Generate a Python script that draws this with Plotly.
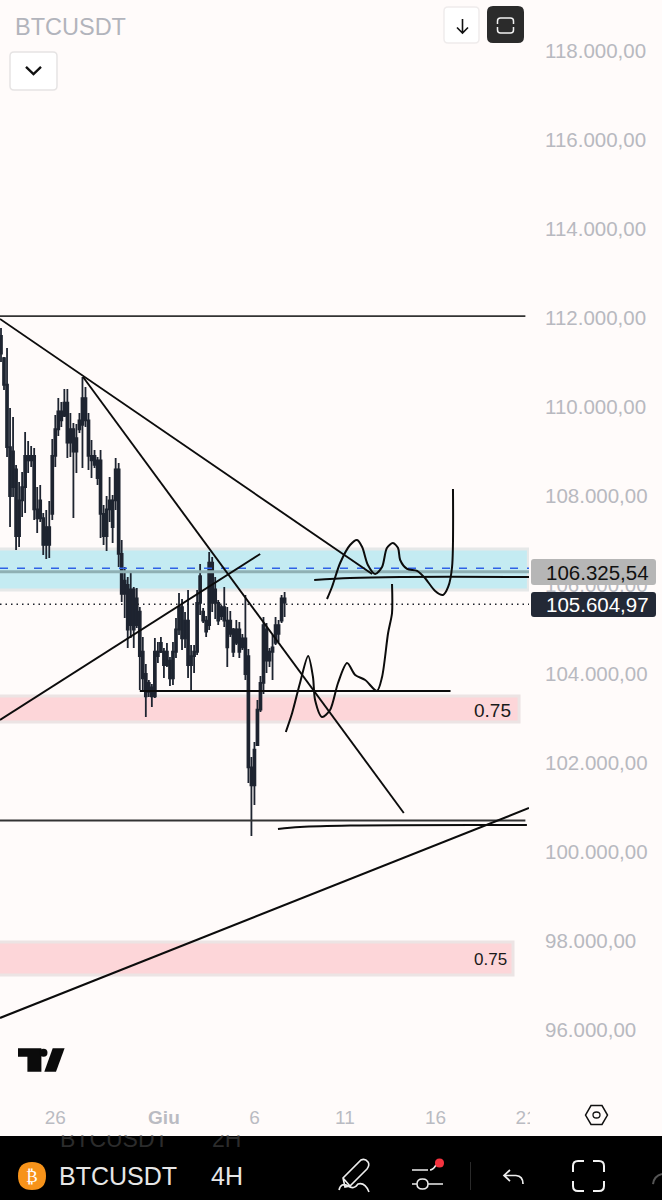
import plotly.graph_objects as go

W, H = 662, 1200
BG = "#fffbfa"
DARK = "#1e2430"
INK = "#0c0c0c"

# ---------- candle data (4H candles, index 0 = first visible candle) ----------
opens = [111600,111100,110500,109100,108200,108600,107100,107900,108200,108900,108800,108900,107700,107500,107500,106900,107300,107600,108900,109500,
109900,109800,110100,109200,109500,109000,109500,109600,110200,109700,108900,108700,108800,108800,107600,107100,107700,107900,107900,108600,
106700,105800,106000,105100,105900,105100,105400,104500,104000,103600,103700,103500,104500,104500,104500,104200,104300,103900,104500,105000,
105500,104800,105200,104200,104400,104500,105600,105400,105200,105100,106500,105600,105600,105300,105500,105200,104900,105000,104700,105000,
104600,104800,104400,101900,101500,102400,103200,103800,105000,104300,104500,104700,105100,105200,105700]
highs = [111775,111124,111326,109978,109775,108697,108315,108539,109438,109236,109124,109079,108202,108247,107618,107685,107888,109281,109820,110202,
110112,110404,110404,109865,109640,109618,109865,110674,110449,109865,109258,109034,108876,109034,107798,108000,108427,108022,108854,108742,
107011,106404,106180,106270,105955,105933,105506,104831,104225,103865,103775,104809,104719,104831,104584,104697,104382,104719,105258,105820,
105685,105393,105888,104652,104652,105888,106472,105483,105303,106742,106629,106180,105663,105551,105955,105506,105416,105034,105213,105169,
104899,105775,104562,102135,102472,103416,103955,105281,105146,104584,104876,105281,105213,105775,105843]
lows = [111011,110382,108876,107303,107978,106786,106854,107528,107618,108517,108652,107461,107169,107416,106674,106584,106607,107461,108652,109348,
109551,109775,108854,108876,107506,108517,109416,108629,109551,108584,108404,108629,108247,107056,106899,106764,107416,106944,107685,106404,
105618,105258,104584,104809,104584,105034,103640,103640,103034,103483,103258,103461,104247,104472,103910,104157,103730,103753,104360,104876,
104539,104584,103910,103618,104022,104427,105326,105146,104831,104989,105393,105236,105101,105213,105056,104157,104831,104382,104652,104360,
104539,103865,101551,100360,101056,102382,103146,103551,104022,104157,103865,104652,104719,105146,105281]
closes = [111200,110500,109100,108000,109000,107100,107900,108200,108900,108800,108900,107700,107500,107900,106900,107300,106900,108900,109500,109900,
109700,110100,109200,109500,109000,109300,109700,110200,109700,108900,108800,108900,108400,107600,107100,107700,107900,107300,108600,106700,
105800,106100,105000,105900,105000,105700,104400,103900,103500,103800,103500,104500,104400,104700,104200,104500,103900,104500,105000,105500,
104800,105200,104200,104400,104500,105600,106200,105200,104950,106500,105600,105900,105200,105500,105200,104600,105200,104500,105000,104500,
104800,104000,101900,101500,102300,103200,103800,105100,104300,104500,104600,105100,104900,105700,105605]
candle_index = list(range(len(opens)))

# ---------- price axis ----------
price_ticks = [118000,116000,114000,112000,110000,108000,106000,104000,102000,100000,98000,96000]
price_labels = ["118.000,00","116.000,00","114.000,00","112.000,00","110.000,00","108.000,00","106.000,00","104.000,00","102.000,00","100.000,00","98.000,00","96.000,00"]
time_ticks = [18,54,84,114,144,174]
time_labels = ["26","<b>Giu</b>","6","11","16","21"]

# ---------- levels and zones ----------
blue_zone = [105888,106809]
pink_zone_a = [102921,103505]
pink_zone_b = [97236,97977]
poc_level = 106300
dash_level = 106375
last_level = 105570
level_high = 112040
level_low = 100708
level_mid = 103618

# ---------- drawn lines ----------
fan_a_x, fan_a_y = [-0.33,123.0],[111978,106247]
fan_b_x, fan_b_y = [27.2,133.5],[110674,100876]
rise_a_x, rise_a_y = [-0.33,85.9],[102966,106697]
rise_b_x, rise_b_y = [-0.33,175],[96270,100989]
mid_x = [46,149]
mid_y = [level_mid,level_mid]
base_x = [91.8,99.1,115.7,174.3]
base_y = [100517,100562,100596,100607]
shelf_x = [103.8,115.7,132.3,175]
shelf_y = [106112,106157,106180,106180]
sketch_a_x = [108.05,109.7,112.4,115.7,118,119.7,121.6,124,126.3,127.9,129.9,131.6,132.3,134.6,137.9,140.5,143.9,146.5,148.2,149.5,149.8]
sketch_a_y = [105685,105955,106494,106899,107011,106854,106449,106247,106404,106831,106944,106831,106562,106360,106315,106157,105865,105775,105955,106404,108157]
sketch_b_x = [94.4,96.5,99.1,101.8,103.4,104.1,106.4,109.05,111.7,114.7,117.4,120.7,124.6,126.3,128.3,129.6,129.6]
sketch_b_y = [102697,103124,103798,104404,103933,103416,103034,103191,103798,104247,103978,103865,103618,103933,104921,105371,106022]

X_RANGE = [-0.33, 175]
Y_RANGE = [94539, 119146]
PLOT_BOTTOM = 1095
PLOT_RIGHT = 529

def px(x): return x / W
def py(y): return 1 - y / H

def path_px(d):
    out, is_x = [], True
    for tok in d.split():
        if tok.isalpha():
            out.append(tok); is_x = True
        else:
            v = float(tok)
            out.append(f"{px(v):.5f}" if is_x else f"{py(v):.5f}")
            is_x = not is_x
    return " ".join(out)

def round_rect(x0, y0, x1, y1, r):
    return (f"M {x0+r} {y0} L {x1-r} {y0} Q {x1} {y0} {x1} {y0+r} L {x1} {y1-r} Q {x1} {y1} {x1-r} {y1} "
            f"L {x0+r} {y1} Q {x0} {y1} {x0} {y1-r} L {x0} {y0+r} Q {x0} {y0} {x0+r} {y0} Z")

shapes, annos = [], []

def chrome(d, fill=None, line=None, lw=0):
    s = dict(type="path", xref="paper", yref="paper", path=path_px(d), layer="above",
             line=dict(color=line or "rgba(0,0,0,0)", width=lw))
    if fill: s["fillcolor"] = fill
    shapes.append(s)

def label(x, y, text, size, color, anchor="left", font="Liberation Sans"):
    annos.append(dict(xref="paper", yref="paper", x=px(x), y=py(y), text=text, showarrow=False,
                      xanchor=anchor, yanchor="middle", borderpad=0,
                      font=dict(family=font, size=size, color=color)))

def zone(rng, x_end, fill, edge):
    shapes.append(dict(type="rect", xref="x", yref="y", x0=X_RANGE[0]-2, x1=x_end, y0=rng[0], y1=rng[1],
                       fillcolor=fill, line=dict(color=edge, width=3), layer="below"))

zone(blue_zone, 174.8, "#c4ebf2", "#e6e8e8")
zone(pink_zone_a, 171.7, "#fdd6d9", "#ece4e4")
zone(pink_zone_b, 169.7, "#fdd6d9", "#ece4e4")

fig = go.Figure()

def line(x, y, color=INK, width=1.8, dash=None, shape="linear", smooth=None):
    l = dict(color=color, width=width, shape=shape)
    if dash: l["dash"] = dash
    if smooth: l["smoothing"] = smooth
    fig.add_trace(go.Scatter(x=x, y=y, mode="lines", line=l, hoverinfo="skip", showlegend=False))

fig.add_trace(go.Candlestick(
    x=candle_index, open=opens, high=highs, low=lows, close=closes,
    increasing=dict(line=dict(color=DARK, width=1.8), fillcolor=DARK),
    decreasing=dict(line=dict(color=DARK, width=1.8), fillcolor=DARK),
    whiskerwidth=0, hoverinfo="skip", showlegend=False))

line(X_RANGE, [poc_level]*2, color="#8fb0b4", width=3)
line(X_RANGE, [dash_level]*2, color="#2f62e6", width=1.5, dash="8px,9px")
line([X_RANGE[0],175], [last_level]*2, color="#20242c", width=1.5, dash="1.5px,4px")
line([X_RANGE[0],173.8], [level_high]*2, color="#333333", width=1.8)
line([X_RANGE[0],173.8], [level_low]*2, color="#333333", width=1.8)
line(mid_x, mid_y, width=2.1)
line(fan_a_x, fan_a_y, width=1.9)
line(fan_b_x, fan_b_y, width=1.9)
line(rise_a_x, rise_a_y, width=1.9)
line(rise_b_x, rise_b_y, width=2.1)
line(base_x, base_y, width=2, shape="spline")
line(shelf_x, shelf_y, width=2, shape="spline")
line(sketch_a_x, sketch_a_y, width=2, shape="spline", smooth=0.8)
line(sketch_b_x, sketch_b_y, width=2, shape="spline", smooth=0.8)

# zone labels
label(492, 710, "0.75", 19, "#1a1a1a", "center")
label(490.5, 959, "0.75", 17, "#1a1a1a", "center")

# cover that clips the last date label
chrome("M 530 1100 L 575 1100 L 575 1132 L 530 1132 Z", fill=BG)

# price tags
chrome(round_rect(531, 559, 656, 585, 3), fill="#b6b6b6")
chrome(round_rect(531, 592, 656, 617, 3), fill="#232936")
label(544.5, 572, "106.325,54", 20.5, "#111111")
label(544.5, 604.5, "105.604,97", 20.5, "#ffffff")

# header controls
label(14, 27, "BTCUSDT", 23.5, "#b2b4bc")
chrome(round_rect(10, 52, 57, 90, 4), fill="#ffffff", line="#e6e4e4", lw=1.5)
chrome("M 26 67 L 33.5 74 L 41 67", line="#111111", lw=2.4)
chrome(round_rect(444, 7, 479, 43, 4), fill="#ffffff", line="#efecec", lw=1.5)
chrome("M 462.5 19 L 462.5 33 M 457 27.5 L 462.5 33 L 468 27.5", line="#111111", lw=1.6)
chrome(round_rect(487, 6, 524, 43, 6), fill="#2b2b2b")
chrome("M 497.5 24 L 497.5 21 Q 497.5 18 500.5 18 L 510.5 18 Q 513.5 18 513.5 21 L 513.5 24 "
       "M 497.5 27 L 497.5 30 Q 497.5 33 500.5 33 L 510.5 33 Q 513.5 33 513.5 30 L 513.5 27", line="#f2f2f2", lw=1.5)

# TradingView logo
chrome("M 18 1048.3 L 41.4 1048.3 L 41.4 1071.7 L 27.4 1071.7 L 27.4 1056.8 L 18 1056.8 Z", fill="#0b0b0b")
chrome("M 52.7 1048.3 L 64.6 1048.3 L 56 1071.7 L 44.3 1071.7 Z", fill="#0b0b0b")
chrome("M 39.5 1052.7 Q 39.5 1048.7 43.5 1048.7 Q 47.5 1048.7 47.5 1052.7 Q 47.5 1056.7 43.5 1056.7 Q 39.5 1056.7 39.5 1052.7 Z", fill="#0b0b0b")

# settings hexagon
chrome("M 585.5 1115 L 591 1105.5 L 602 1105.5 L 607.5 1115 L 602 1124.5 L 591 1124.5 Z", line="#111111", lw=1.5)
chrome("M 593 1115 Q 593 1112 596.5 1112 Q 600 1112 600 1115 Q 600 1118 596.5 1118 Q 593 1118 593 1115 Z", line="#111111", lw=1.3)

# bottom bar
chrome("M 0 1136 L 662 1136 L 662 1200 L 0 1200 Z", fill="#000000")
label(59, 1139, "BTCUSDT", 23, "#2c2c2c")
label(211, 1139, "2H", 23, "#2c2c2c")
annos.append(dict(xref="paper", yref="paper", x=0, y=py(1136), xanchor="left", yanchor="bottom", text=" ",
                  showarrow=False, width=300, height=9, bgcolor=BG, borderpad=0, font=dict(size=6)))
chrome("M 18 1176 Q 18 1162 32 1162 Q 46 1162 46 1176 Q 46 1190 32 1190 Q 18 1190 18 1176 Z", fill="#f7931a")
label(32, 1176, "₿", 17, "#ffffff", "center", "DejaVu Sans")
label(58, 1176, "BTCUSDT", 25, "#e6e6e6")
label(210, 1176, "4H", 25, "#e6e6e6")
chrome("M 345 1187 L 343 1178 L 361 1160 Q 365 1158 368 1162 Q 370 1165 367 1169 L 350 1186 Z M 343 1178 L 350 1186 "
       "M 339 1190 Q 341 1182 348 1186 Q 354 1190 358 1184 Q 365 1182 369 1192", line="#ededed", lw=1.6)
chrome("M 412 1170 L 428 1170 M 436 1165 Q 433 1170 430 1170 M 412 1184 L 417 1184 M 428 1184 L 443 1184 "
       "M 417 1184 Q 417 1179 422.5 1179 Q 428 1179 428 1184 Q 428 1189 422.5 1189 Q 417 1189 417 1184 Z", line="#ededed", lw=1.5)
chrome("M 435 1163 Q 435 1158.5 439.5 1158.5 Q 444 1158.5 444 1163 Q 444 1167.5 439.5 1167.5 Q 435 1167.5 435 1163 Z", fill="#f5333f")
chrome("M 470.5 1162 L 470.5 1190", line="#2a2a2a", lw=1)
chrome("M 510 1170 L 504 1175.5 L 510 1181 M 504 1175.5 L 516 1175.5 Q 523 1176 523 1184", line="#ededed", lw=1.7)
chrome("M 573 1172 L 573 1166 Q 573 1161 578 1161 L 584 1161 M 593 1161 L 599 1161 Q 604 1161 604 1166 L 604 1172 "
       "M 604 1181 L 604 1186 Q 604 1191 599 1191 L 593 1191 M 584 1191 L 578 1191 Q 573 1191 573 1186 L 573 1181", line="#f2f2f2", lw=2)
chrome("M 653 1184 Q 654 1176 662 1174", line="#555555", lw=2)

fig.update_layout(
    width=W, height=H, autosize=False,
    paper_bgcolor=BG, plot_bgcolor=BG,
    margin=dict(l=0, r=0, t=0, b=0, pad=0),
    boxgap=0.1, showlegend=False, hovermode=False,
    shapes=shapes, annotations=annos,
    xaxis=dict(domain=[0, PLOT_RIGHT / W], range=X_RANGE, rangeslider=dict(visible=False), automargin=False,
               showgrid=False, zeroline=False, showline=False, ticks="",
               tickmode="array", tickvals=time_ticks, ticktext=time_labels, ticklabelstandoff=9,
               tickfont=dict(family="Liberation Sans", size=19, color="#babbc2"), fixedrange=True),
    yaxis=dict(domain=[1 - PLOT_BOTTOM / H, 1], range=Y_RANGE, side="right", anchor="x", automargin=False,
               showgrid=False, zeroline=False, showline=False, ticks="",
               tickmode="array", tickvals=price_ticks, ticktext=price_labels, ticklabelstandoff=15,
               tickfont=dict(family="Liberation Sans", size=20.5, color="#b8b9c0"), fixedrange=True),
)

fig.write_html("out.html", default_width="662px", default_height="1200px",
               config=dict(displayModeBar=False, staticPlot=True, responsive=False),
               post_script="document.documentElement.style.overflow='hidden';document.body.style.margin='0';document.body.style.background='" + BG + "';")
